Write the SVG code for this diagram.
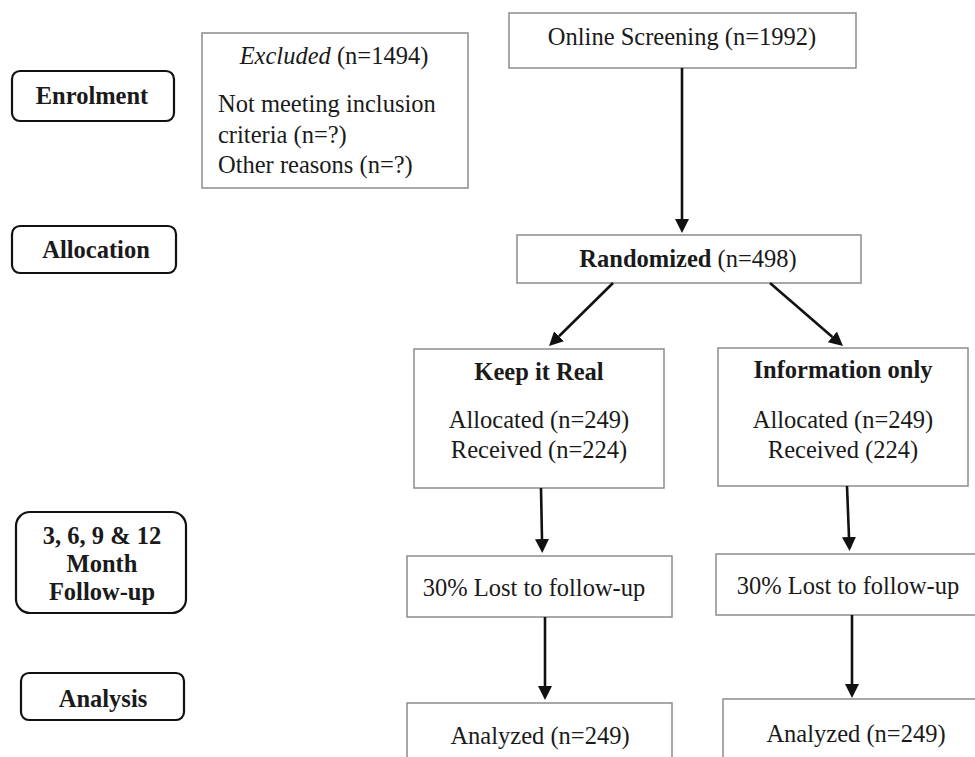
<svg xmlns="http://www.w3.org/2000/svg" width="975" height="757" viewBox="0 0 975 757">
<defs>
<style>
text{font-family:"Liberation Serif","Times New Roman",serif;font-size:24.5px;fill:#1a1a1a}
.b{font-weight:bold}
.c{text-anchor:middle}
.box{fill:#fff;stroke:#8c8c8c;stroke-width:1.5}
.lab{fill:#fff;stroke:#111;stroke-width:2.2}
.arr{stroke:#111;stroke-width:2.6;fill:none;marker-end:url(#ah)}
</style>
<marker id="ah" viewBox="0 0 10 10" refX="0" refY="5" markerWidth="14" markerHeight="14" markerUnits="userSpaceOnUse" orient="auto">
<path d="M0,0 L10,5 L0,10 z" fill="#111"/>
</marker>
</defs>
<rect width="975" height="757" fill="#fff"/>

<g id="enrolment"><rect class="lab" x="12" y="71" width="162" height="50" rx="8"/><text class="b c" x="92" y="104">Enrolment</text></g>
<g id="allocation"><rect class="lab" x="12" y="226" width="164" height="47" rx="8"/><text class="b c" x="96" y="258">Allocation</text></g>
<g id="followup"><rect class="lab" x="16" y="512" width="170" height="101" rx="14"/>
<text class="b c" x="102" y="544">3, 6, 9 &amp; 12</text><text class="b c" x="102" y="572">Month</text><text class="b c" x="102" y="600">Follow-up</text></g>
<g id="analysis"><rect class="lab" x="21" y="673" width="163" height="47" rx="8"/><text class="b c" x="103" y="707">Analysis</text></g>

<g id="excluded"><rect class="box" x="202" y="33" width="266" height="155"/>
<text class="c" x="334" y="64"><tspan font-style="italic">Excluded</tspan> (n=1494)</text>
<text x="218" y="112">Not meeting inclusion</text>
<text x="218" y="143">criteria (n=?)</text>
<text x="218" y="173">Other reasons (n=?)</text></g>

<g id="screening"><rect class="box" x="509" y="13" width="347" height="55"/><text class="c" x="682" y="45">Online Screening (n=1992)</text></g>
<g id="randomized"><rect class="box" x="517" y="235" width="344" height="48"/><text class="c" x="688" y="267"><tspan class="b">Randomized</tspan> (n=498)</text></g>

<g id="keep"><rect class="box" x="414" y="349" width="250" height="139"/>
<text class="b c" x="539" y="380">Keep it Real</text>
<text class="c" x="539" y="428">Allocated (n=249)</text>
<text class="c" x="539" y="458">Received (n=224)</text></g>
<g id="info"><rect class="box" x="718" y="348" width="250" height="138"/>
<text class="b c" x="843" y="378">Information only</text>
<text class="c" x="843" y="428">Allocated (n=249)</text>
<text class="c" x="843" y="458">Received (224)</text></g>

<g id="lost1"><rect class="box" x="407" y="556" width="265" height="61"/><text class="c" x="534" y="596">30% Lost to follow-up</text></g>
<g id="lost2"><rect class="box" x="716" y="554" width="270" height="61"/><text class="c" x="848" y="594">30% Lost to follow-up</text></g>
<g id="analyzed1"><rect class="box" x="407" y="703" width="265" height="70"/><text class="c" x="540" y="744">Analyzed (n=249)</text></g>
<g id="analyzed2"><rect class="box" x="723" y="699" width="270" height="70"/><text class="c" x="856" y="742">Analyzed (n=249)</text></g>

<g id="connectors">
<line class="arr" x1="682" y1="68" x2="682" y2="219"/>
<line class="arr" x1="613" y1="283" x2="559" y2="336.2"/>
<line class="arr" x1="770" y1="283" x2="832.4" y2="336.9"/>
<line class="arr" x1="541" y1="488" x2="542" y2="539"/>
<line class="arr" x1="545" y1="617" x2="545" y2="686"/>
<line class="arr" x1="847" y1="486" x2="849" y2="537"/>
<line class="arr" x1="852" y1="615" x2="852" y2="684"/>
</g>
</svg>
